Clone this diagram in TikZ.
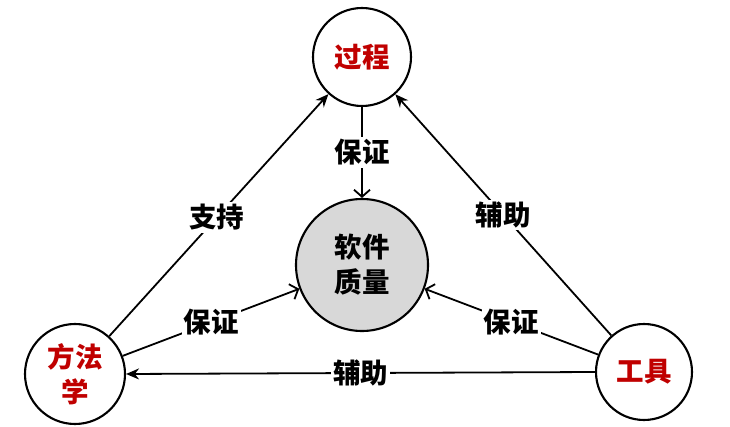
\documentclass[tikz,border=0pt]{standalone}
\usepackage{fontspec}
\setmainfont{Noto Sans CJK SC}
\usetikzlibrary{arrows.meta}
\definecolor{nodered}{RGB}{192,0,0}
\definecolor{qgray}{RGB}{216,216,216}
\tikzset{
  ring/.style={circle, draw=black, line width=2.1pt, fill=white, inner sep=0pt},
  redtxt/.style={text=nodered, font=\fontsize{27.5}{35}\selectfont\bfseries, align=center},
  lbl/.style={fill=white, inner sep=2pt, text=black, font=\fontsize{27.5}{35}\selectfont\bfseries},
  outarrow/.style={line width=1.8pt, -{Stealth[length=13pt,width=11pt]}},
  inarrow/.style={line width=1.8pt, -{Straight Barb[length=7pt,width=16pt,line width=1.8pt]}}
}
\begin{document}
\begin{tikzpicture}[x=1pt,y=-1pt]
\useasboundingbox (0,0) rectangle (730,427);
\node[ring, minimum size=98pt, redtxt] (guo) at (362,57) {过程};
\node[ring, minimum size=132pt, fill=qgray, font=\fontsize{27.5}{35}\selectfont\bfseries, align=center] (q) at (362,265) {软件\\质量};
\node[ring, minimum size=100pt, redtxt] (fang) at (75,374) {方法\\学};
\node[ring, minimum size=96pt, redtxt] (gong) at (644,372) {工具};
\draw[outarrow] (fang) -- node[lbl, pos=0.49] (l1) {支持} (guo);
\draw[outarrow] (gong) -- node[lbl, pos=0.5] (l2) {辅助} (guo);
\draw[inarrow] (guo) -- node[lbl, pos=0.5] (l3) {保证} (q);
\draw[inarrow] (fang) -- node[lbl, pos=0.5] (l4) {保证} (q);
\draw[inarrow] (gong) -- node[lbl, pos=0.5] (l5) {保证} (q);
\draw[outarrow] (gong.west) -- node[lbl, pos=0.5] (l6) {辅助} (fang.east);
\end{tikzpicture}
\end{document}
